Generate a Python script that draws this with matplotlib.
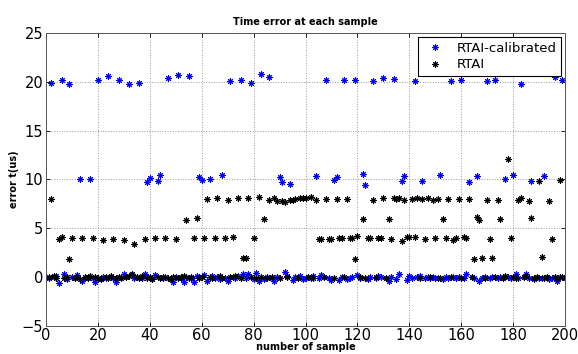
import numpy as np
import matplotlib
matplotlib.use("Agg")
from matplotlib import pyplot as plt

# numero da amostra
samples = np.arange(1, 201)

# erro (us) - RTAI calibrado
rtai_cal = [
    -0.1, 19.9, 0.0, 0.1, -0.6, 20.2, 0.3, -0.2, 19.8, 0.0,
    -0.1, 0.25, 10.1, -0.4, -0.1, 0.0, 10.1, -0.1, -0.5, 20.25,
    -0.2, 0.0, -0.1, 20.6, 0.0, -0.1, -0.5, 20.2, -0.1, 0.35,
    0.0, 19.8, 0.3, -0.1, 0.0, 19.9, -0.1, 0.3, 9.7, 10.15,
    -0.2, 0.15, 9.8, 10.5, -0.1, 0.0, 20.4, -0.2, -0.5, 0.0,
    20.7, -0.1, -0.55, 0.0, 20.65, -0.1, -0.55, 0.1, 10.3, 9.95,
    0.25, -0.4, 10.1, 0.1, -0.1, 0.0, -0.2, 10.5, -0.1, -0.4,
    20.15, 0.0, -0.1, 0.1, 20.2, 0.3, -0.1, 0.3, 19.85, -0.2,
    0.4, -0.4, 20.8, -0.2, 0.0, 20.5, -0.1, -0.4, 0.0, 10.3,
    9.7, 0.55, 0.1, 9.5, -0.3, 0.0, -0.1, 0.1, -0.25, -0.1,
    0.0, -0.1, 0.1, 10.4, -0.1, 0.15, 0.0, 20.2, -0.1, -0.3,
    9.9, 10.3, -0.35, 0.0, 20.2, -0.25, -0.1, 0.0, 20.2, 0.15,
    -0.1, 10.6, 9.4, -0.2, 0.0, 20.15, -0.1, 0.1, -0.05, 20.4,
    -0.1, -0.4, 0.0, 20.3, -0.2, 0.3, 9.8, 10.4, -0.3, 0.1,
    -0.1, 20.15, 0.0, 0.05, 9.8, -0.1, 0.0, -0.1, 0.0, -0.1,
    -0.1, 10.5, -0.2, 0.0, -0.1, 20.1, 0.0, -0.1, 0.0, 20.25,
    -0.1, 0.35, 9.7, 0.0, -0.1, 10.4, -0.4, -0.1, 0.0, 20.15,
    -0.1, 0.0, 20.2, -0.1, 0.0, -0.1, 10.1, 0.0, -0.1, 10.5,
    0.3, -0.1, 19.8, 0.0, 0.3, -0.1, 9.8, -0.2, 0.0, -0.1,
    -0.1, 10.4, 0.0, -0.2, -0.1, 20.5, -0.4, 0.0, 20.2, -0.1,
]

# erro (us) - RTAI
rtai = [
    0.0, 8.0, 0.1, -0.1, 3.9, 4.05, -0.1, 0.0, 1.85, 4.0,
    -0.1, 0.0, -0.2, 4.0, 0.0, -0.1, 0.05, 3.95, 0.0, -0.1,
    -0.2, 3.75, 0.0, -0.1, 0.1, 3.85, -0.1, 0.0, -0.1, 3.8,
    0.0, 0.1, 0.35, 3.4, 0.0, -0.1, 0.1, 3.9, -0.1, 0.0,
    -0.2, 3.95, 0.0, -0.1, 0.0, 3.95, -0.1, -0.2, 0.0, 3.9,
    -0.1, 0.0, 0.1, 5.8, -0.1, 0.0, 4.0, 6.0, -0.1, 0.0,
    3.95, 7.95, 0.0, -0.1, 3.95, 8.05, 0.1, -0.1, 3.95, 7.9,
    0.0, 4.05, 0.1, 8.15, -0.1, 1.9, 1.9, 8.05, 0.0, 3.95,
    -0.1, 8.2, 0.0, 5.95, -0.1, 7.85, 0.0, 8.05, 7.8, -0.1,
    7.75, 7.7, 0.0, 7.85, 7.9, 7.95, -0.1, 8.05, 8.05, 8.1,
    0.0, 8.2, -0.1, 7.85, 3.9, 3.9, 0.0, 8.0, 3.9, 3.9,
    -0.1, 8.0, 3.95, 3.95, 0.0, 8.0, 3.95, 3.95, 1.85, 4.15,
    0.0, 5.95, -0.1, 3.95, 3.95, 7.85, 0.0, 3.95, 3.95, 8.05,
    -0.1, 5.95, 3.9, 8.1, 8.0, 8.05, 3.7, 7.9, 4.05, 4.05,
    7.95, 4.05, 8.05, -0.1, 7.95, 3.9, 8.1, 0.0, 7.9, 3.95,
    8.0, -0.1, 5.95, 4.0, 8.0, 0.0, 3.8, 4.0, 8.0, -0.1,
    4.1, 4.0, 7.95, 0.0, 1.8, 6.1, 5.8, 1.95, -0.1, 7.9,
    3.85, 1.95, 0.0, 7.9, 5.95, -0.1, 0.1, 12.1, 3.95, 0.0,
    -0.1, 7.9, 8.1, 0.0, 0.1, 7.8, 6.0, -0.1, 0.0, 9.85,
    2.0, -0.1, 0.0, 7.8, 3.9, 0.0, -0.1, 9.95, 0.0, -0.1,
]

xticks = np.arange(0, 201, 20)
yticks = np.arange(-5, 26, 5)

fig = plt.figure(figsize=(5.78, 3.54), dpi=100)
ax = fig.add_axes([0.0796, 0.080, 0.898, 0.826])

# asterisco estilo matlab
ast = (8, 2, 0)
ax.plot(samples, rtai_cal, linestyle='none', marker=ast, color='#0000ff',
        ms=4.5, mew=0.75, label='RTAI-calibrated')
ax.plot(samples, rtai, linestyle='none', marker=ast, color='black',
        ms=4.5, mew=0.75, label='RTAI')

ax.set_xlim(0, 200)
ax.set_ylim(-5, 25)
ax.set_xticks(xticks)
ax.set_yticks(yticks)
ax.tick_params(direction='in', length=3, labelsize=10.5, width=0.6,
               top=True, right=True, pad=2)
ax.grid(True, linestyle=':', color='#999999', linewidth=0.7)
for s in ax.spines.values():
    s.set_color('#555555')
    s.set_linewidth(0.7)

ax.set_title('Time error at each sample', fontsize=7, fontweight='bold', pad=6)
ax.set_xlabel('number of sample', fontsize=7, fontweight='bold', labelpad=-1)
ax.set_ylabel('error t(us)', fontsize=7, fontweight='bold', labelpad=2)

leg = ax.legend(loc='upper right', numpoints=1, fontsize=9.5, fancybox=False,
                framealpha=1, edgecolor='black', borderaxespad=0.3,
                handletextpad=0.6, labelspacing=0.25, borderpad=0.35)
leg.get_frame().set_linewidth(0.8)

fig.savefig('out.png', dpi=100)
